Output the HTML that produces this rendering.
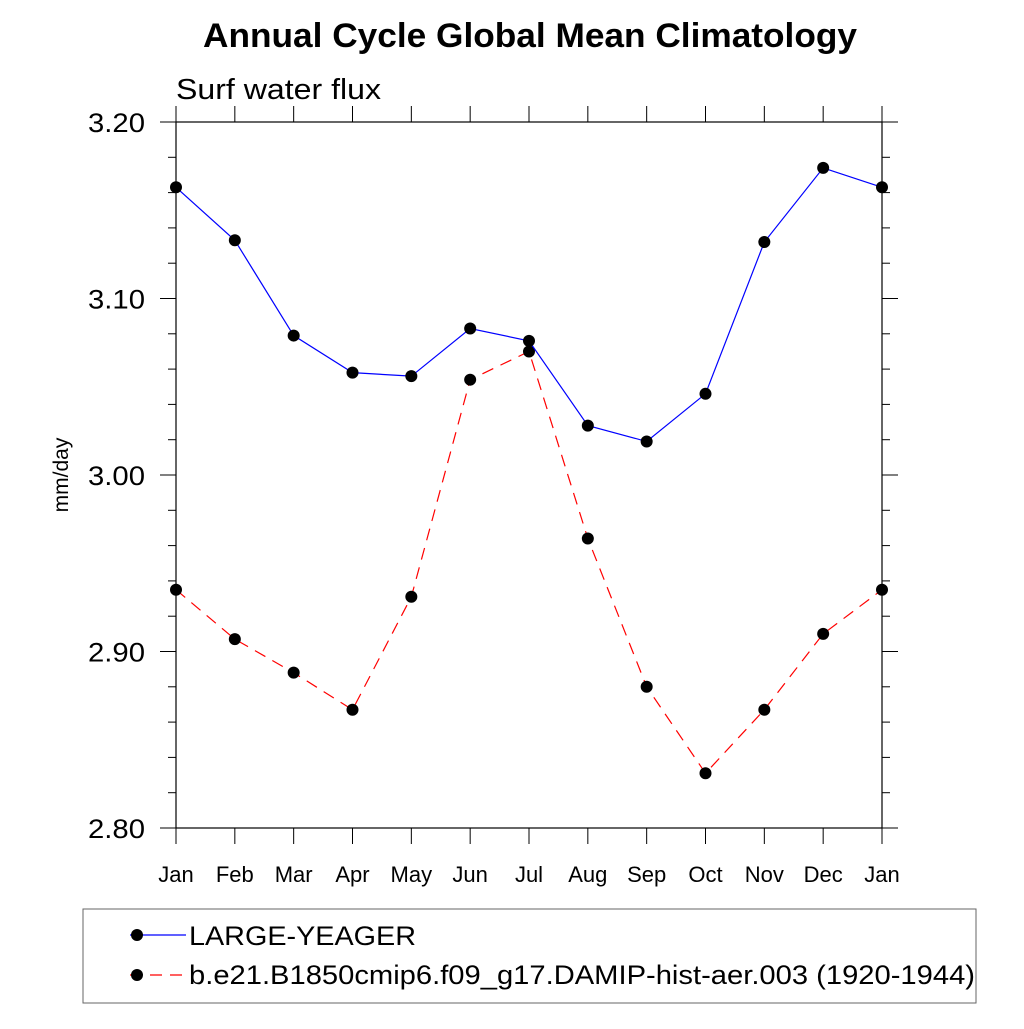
<!DOCTYPE html>
<html><head><meta charset="utf-8"><style>body{margin:0;background:#fff}svg{font-family:"Liberation Sans",sans-serif}</style></head>
<body>
<svg id="chart" width="1024" height="1024" viewBox="0 0 1024 1024">
<text x="203" y="47" font-size="34" font-weight="bold" textLength="654" lengthAdjust="spacingAndGlyphs">Annual Cycle Global Mean Climatology</text>
<text x="176" y="99" font-size="29" textLength="205" lengthAdjust="spacingAndGlyphs">Surf water flux</text>
<text transform="translate(68,475) rotate(-90)" font-size="21" text-anchor="middle">mm/day</text>
<g id="axes"></g><g id="series"></g>
<rect x="83" y="909" width="893" height="94" fill="none" stroke="#666" stroke-width="1"/>
<g>
<line x1="130" y1="935" x2="186" y2="935" stroke="#00f" stroke-width="1.2"/>
<circle cx="137" cy="935" r="6" fill="#000"/>
<text x="189" y="945" font-size="27" textLength="227" lengthAdjust="spacingAndGlyphs">LARGE-YEAGER</text></g>
<g>
<line x1="130" y1="975" x2="186" y2="975" stroke="#f00" stroke-width="1.2" stroke-dasharray="12,8"/>
<circle cx="137" cy="975" r="6" fill="#000"/>
<text x="189" y="984" font-size="27" textLength="786" lengthAdjust="spacingAndGlyphs">b.e21.B1850cmip6.f09_g17.DAMIP-hist-aer.003 (1920-1944)</text></g>
</svg>
<script>
const months=["Jan","Feb","Mar","Apr","May","Jun","Jul","Aug","Sep","Oct","Nov","Dec","Jan"];
const largeYeager=[3.163,3.133,3.079,3.058,3.056,3.083,3.076,3.028,3.019,3.046,3.132,3.174,3.163];
const damip=[2.935,2.907,2.888,2.867,2.931,3.054,3.070,2.964,2.880,2.831,2.867,2.910,2.935];
const yTicks=["2.80","2.90","3.00","3.10","3.20"];
const NS="http://www.w3.org/2000/svg";
const X0=176,X1=882,Y0=828,Y1=122,YMIN=2.8,YMAX=3.2;
const xs=i=>X0+(X1-X0)*i/(months.length-1);
const ys=v=>Y0-(v-YMIN)/(YMAX-YMIN)*(Y0-Y1);
function mk(t,a,p){const e=document.createElementNS(NS,t);for(const k in a)e.setAttribute(k,a[k]);p.appendChild(e);return e;}
const ax=document.getElementById('axes');
const fr=mk('rect',{x:X0,y:Y1,width:X1-X0,height:Y0-Y1,fill:'none',stroke:'#000','stroke-width':1.2},ax);


for(let k=0;k<=20;k++){const v=YMIN+k*0.02,y=ys(v),L=k%5==0?16:8;
mk('line',{x1:X0-L,y1:y,x2:X0,y2:y,stroke:'#000'},ax);mk('line',{x1:X1,y1:y,x2:X1+L,y2:y,stroke:'#000'},ax);}
yTicks.forEach(t=>{const e=mk('text',{x:145,y:ys(+t)+10,'font-size':27,'text-anchor':'end',textLength:57,lengthAdjust:'spacingAndGlyphs'},ax);e.textContent=t;

});
months.forEach((m,i)=>{const x=xs(i);mk('line',{x1:x,y1:Y0,x2:x,y2:Y0+16,stroke:'#000'},ax);mk('line',{x1:x,y1:Y1-16,x2:x,y2:Y1,stroke:'#000'},ax);
const e=mk('text',{x:x,y:882,'font-size':22,'text-anchor':'middle'},ax);e.textContent=m;

});
const sg=document.getElementById('series');
function series(vals,col,dash,name){const g=mk('g',{},sg);


mk('polyline',{points:vals.map((v,i)=>xs(i)+','+ys(v)).join(' '),fill:'none',stroke:col,'stroke-width':1.2,'stroke-dasharray':dash},g);
vals.forEach((v,i)=>{const c=mk('circle',{cx:xs(i),cy:ys(v),r:6,fill:'#000'},g);

});}
series(damip,'#f00','12,8','series-damip');
series(largeYeager,'#00f','none','series-large-yeager');
</script>
</body></html>
